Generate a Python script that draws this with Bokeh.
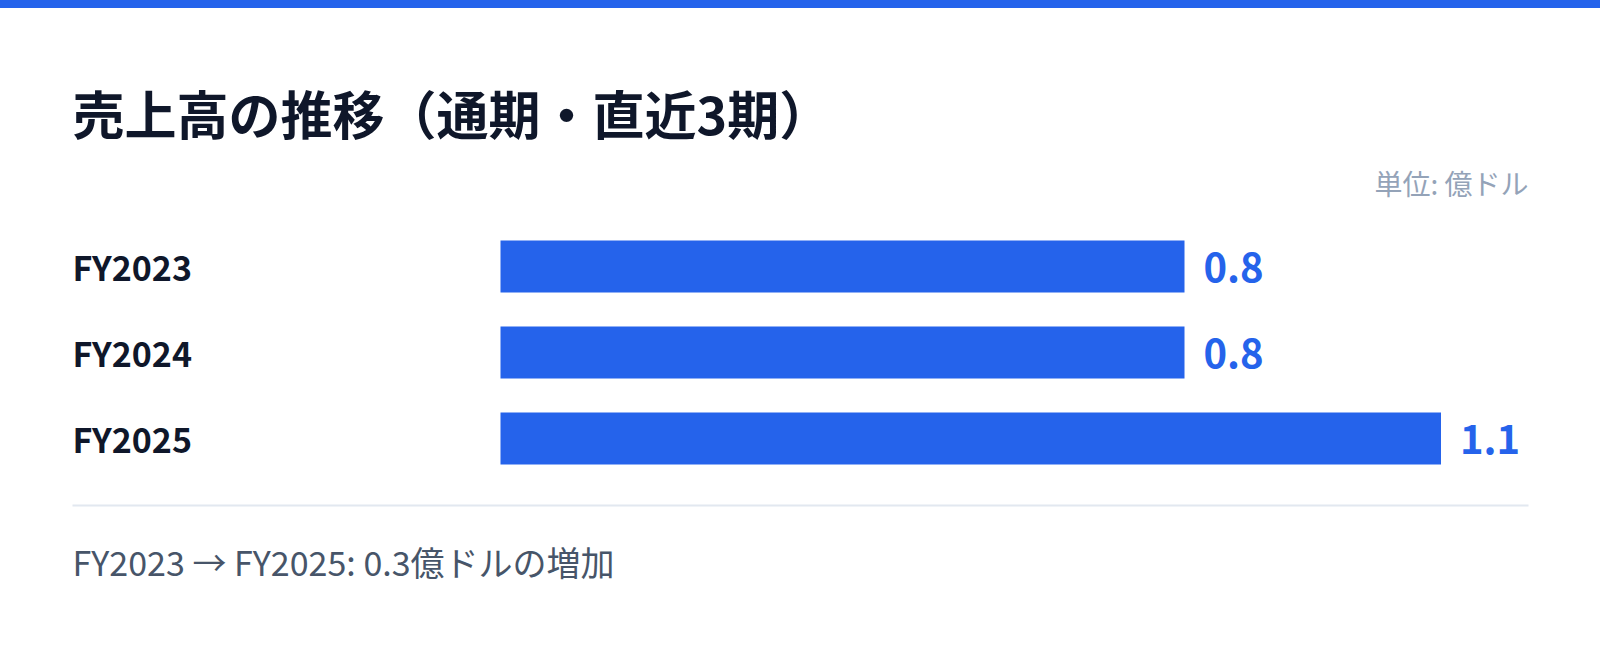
from bokeh.plotting import figure
from bokeh.models import Range1d, FactorRange, ColumnDataSource, Div
from bokeh.layouts import column
from bokeh.core.properties import value
from bokeh.embed import file_html
from bokeh.resources import INLINE

# ---- data ----
categories = ["FY2023", "FY2024", "FY2025"]
sales = [0.8, 0.8, 1.1]
value_labels = ["0.8", "0.8", "1.1"]
title_text = "売上高の推移（通期・直近3期）"
unit_text = "単位: 億ドル"
footer_text = "FY2023 → FY2025: 0.3億ドルの増加"

FONT = "Noto Sans CJK JP"
BLUE = "#2563eb"
W = 1600


def blank_fig(height, x_range, y_range):
    f = figure(width=W, height=height, x_range=x_range, y_range=y_range,
               x_axis_type=None, y_axis_type=None, toolbar_location=None,
               output_backend="svg", min_border=0, margin=0)
    f.outline_line_color = None
    f.background_fill_color = "white"
    f.border_fill_color = "white"
    return f


# ---- header (page y 8..223) ----
head = blank_fig(215, Range1d(0, W), Range1d(223, 8))
head.text(x=[72], y=[112], text=[title_text],
          text_font=value(FONT), text_font_style="bold", text_font_size="52px",
          text_color="#0f172a", text_align="left", text_baseline="middle")
head.text(x=[1528], y=[182], text=[unit_text],
          text_font=value(FONT), text_font_size="28px", text_color="#94a3b8",
          text_align="right", text_baseline="middle")

# ---- bars (page y 223..481) ----
y_range = FactorRange(factors=categories[::-1], range_padding=0)
x_range = Range1d(-500 / 855, 1100 / 855)
p = blank_fig(258, x_range, y_range)

src = ColumnDataSource(dict(cat=categories, val=sales, lab=value_labels))
p.hbar(y="cat", left=0, right="val", height=0.605, source=src,
       fill_color=BLUE, line_color=None)
p.text(x="val", y="cat", text="lab", source=src, x_offset=19,
       text_font=value(FONT), text_font_style="bold", text_font_size="40px",
       text_color=BLUE, text_align="left", text_baseline="middle")
p.text(x=0, y="cat", text="cat", source=src, x_offset=-428,
       text_font=value(FONT), text_font_style="bold",
       text_font_size="34px", text_color="#0f172a", text_align="left",
       text_baseline="middle")

# ---- footer (page y 481..647) ----
foot = blank_fig(166, Range1d(0, W), Range1d(647, 481))
foot.segment(x0=[72], x1=[1528], y0=[505], y1=[505],
             line_color="#e2e8f0", line_width=2)
foot.text(x=[72], y=[561], text=[footer_text],
          text_font=value(FONT), text_font_size="34px", text_color="#475569",
          text_align="left", text_baseline="middle")

topbar = Div(text="", width=W, height=8, margin=0,
             styles={"background-color": BLUE, "height": "8px"})

layout = column(topbar, head, p, foot, spacing=0, margin=0)

open("out.html", "w").write(file_html(layout, INLINE))
